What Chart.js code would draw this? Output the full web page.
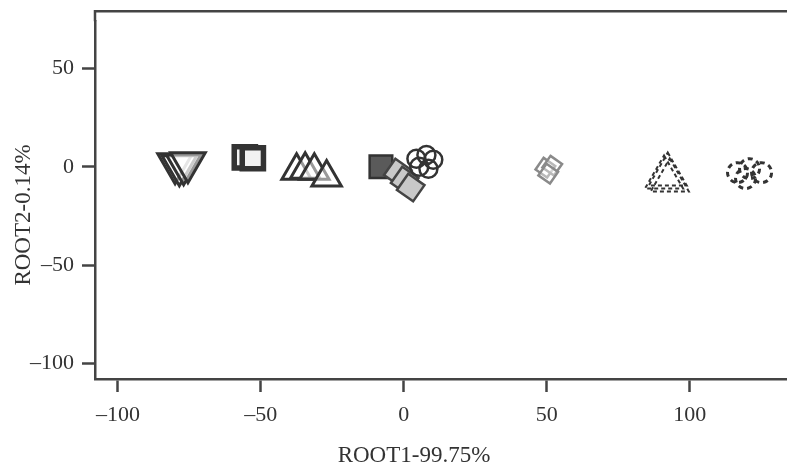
<!DOCTYPE html>
<html>
<head>
<meta charset="utf-8">
<script src="https://cdn.jsdelivr.net/npm/chart.js@4/dist/chart.umd.min.js"></script>
<style>
  html, body { margin: 0; padding: 0; background: #fff; }
  canvas { display: block; }
</style>
</head>
<body>
<canvas id="chart" width="787" height="466"></canvas>
<script>
// discriminant scores per group (ROOT1, ROOT2)
var invTriX   = [-80, -78.5, -77, -75.5],
    invTriY   = [1.5, 0.5, 1, 2];
var squareX   = [-55.6, -52.8],
    squareY   = [4.8, 4.3];
var triX      = [-37.5, -34.5, -31.3, -27],
    triY      = [-2, -1.5, -2, -5.5];
var darkRectX = [-8],
    darkRectY = [0];
var diamondX  = [-2.1, 0.3, 2.4],
    diamondY  = [-3, -7, -10.6];
var circleX   = [4.4, 7.9, 10.3, 8.6, 5.4],
    circleY   = [4, 6, 3.5, -1, 0];
var lightDiaX = [49.5, 51.9, 50.5],
    lightDiaY = [-0.5, 0.5, -3.5];
var dashTriX  = [92.3, 91, 93],
    dashTriY  = [-4, -5.5, -7];
var curlyX    = [116.7, 120.9, 125.1, 119.5],
    curlyY    = [-3, -1, -3, -6];

var xTicks = [-100, -50, 0, 50, 100],
    yTicks = [-100, -50, 0, 50];
var xTitle = 'ROOT1-99.75%',
    yTitle = 'ROOT2-0.14%';

var toPts = function(xs, ys){
    return xs.map(function(x, i){ return {x: x, y: ys[i]}; });
};

var dark = '#333',
    axisCol = '#444',
    serif = "'Liberation Serif', 'DejaVu Serif', serif",
    font = {family: serif, size: 22};

var datasets = [
    {data: toPts(circleX, circleY),   pointStyle: 'circle', radius: 9,  borderColor: dark, backgroundColor: 'rgba(0,0,0,0)', borderWidth: 2.5, order: 1},
    {data: toPts(diamondX, diamondY), pointStyle: 'rect', rotation: 35, radius: 14, borderColor: '#444', backgroundColor: '#c8c8c8', borderWidth: 2.5, order: 2},
    {data: toPts(darkRectX, darkRectY), pointStyle: 'rect', radius: 16, borderColor: dark, backgroundColor: '#5a5a5a', borderWidth: 2.5, order: 3},
    {data: toPts(invTriX, invTriY),   pointStyle: 'triangle', rotation: 180, radius: 20, borderColor: dark, backgroundColor: 'rgba(255,255,255,0.5)', borderWidth: 3, order: 4},
    {data: toPts(squareX, squareY),   pointStyle: 'rect', radius: 15, borderColor: dark, backgroundColor: '#f2f2f2', borderWidth: 5.5, order: 5},
    {data: toPts(triX, triY),         pointStyle: 'triangle', radius: 17, borderColor: dark, backgroundColor: 'rgba(255,255,255,0.5)', borderWidth: 3, order: 6},
    {data: toPts(lightDiaX, lightDiaY), pointStyle: 'rect', rotation: 35, radius: 10, borderColor: '#8a8a8a', backgroundColor: 'rgba(255,255,255,0.4)', borderWidth: 2.5, order: 7},
    {data: toPts(dashTriX, dashTriY), pointStyle: 'triangle', radius: 22, borderColor: dark, backgroundColor: 'rgba(0,0,0,0)', borderWidth: 2, dash: [4, 3], order: 8},
    {data: toPts(curlyX, curlyY),     pointStyle: 'circle', radius: 10, borderColor: dark, backgroundColor: 'rgba(0,0,0,0)', borderWidth: 3, dash: [5, 4], order: 9}
];
datasets.forEach(function(ds){
    ds.pointHoverRadius = ds.radius;
    ds.pointRadius = ds.radius;
});

// dashed outlines for some markers
var dashPlugin = {
    id: 'dash',
    beforeDatasetDraw: function(chart, args){
        var ds = chart.data.datasets[args.index];
        if (ds.dash) chart.ctx.setLineDash(ds.dash);
    },
    afterDatasetDraw: function(chart){
        chart.ctx.setLineDash([]);
    }
};

// frame on top (10px above the plotting area) and axis titles
var framePlugin = {
    id: 'frame',
    afterDraw: function(chart){
        var ctx = chart.ctx,
            area = chart.chartArea,
            topY = area.top - 10;
        ctx.save();
        ctx.strokeStyle = axisCol;
        ctx.lineWidth = 2.5;
        ctx.beginPath();
        ctx.moveTo(area.left, area.top);
        ctx.lineTo(area.left, topY);
        ctx.lineTo(chart.width, topY);
        ctx.stroke();

        ctx.fillStyle = dark;
        ctx.font = '23px ' + serif;
        ctx.textAlign = 'center';
        ctx.textBaseline = 'middle';
        ctx.fillText(xTitle, 414, 456);
        ctx.translate(24, 215);
        ctx.rotate(-Math.PI / 2);
        ctx.fillText(yTitle, 0, 0);
        ctx.restore();
    }
};

var chart = new Chart(document.getElementById('chart'), {
    type: 'scatter',
    data: {datasets: datasets},
    options: {
        responsive: false,
        animation: false,
        events: [],
        layout: {autoPadding: false, padding: 0},
        plugins: {legend: {display: false}, tooltip: {enabled: false}},
        scales: {
            x: {
                min: -108, max: 134,
                afterBuildTicks: function(s){ s.ticks = xTicks.map(function(v){ return {value: v}; }); },
                afterFit: function(s){ s.height = 87; },
                grid: {drawOnChartArea: false, drawTicks: true, tickLength: 13, tickColor: axisCol, tickWidth: 2.5},
                border: {display: true, color: axisCol, width: 2.5},
                ticks: {color: dark, font: font, padding: 10, maxRotation: 0,
                        callback: function(v){ return v < 0 ? '\u2013' + Math.abs(v) : '' + v; }}
            },
            y: {
                min: -107.8, max: 73.9,
                afterBuildTicks: function(s){ s.ticks = yTicks.map(function(v){ return {value: v}; }); },
                afterFit: function(s){ s.width = 95; },
                grid: {drawOnChartArea: false, drawTicks: true, tickLength: 13, tickColor: axisCol, tickWidth: 2.5},
                border: {display: true, color: axisCol, width: 2.5},
                ticks: {color: dark, font: font, padding: 8,
                        callback: function(v){ return v < 0 ? '\u2013' + Math.abs(v) : '' + v; }}
            }
        }
    },
    plugins: [dashPlugin, framePlugin]
});
</script>
</body>
</html>
